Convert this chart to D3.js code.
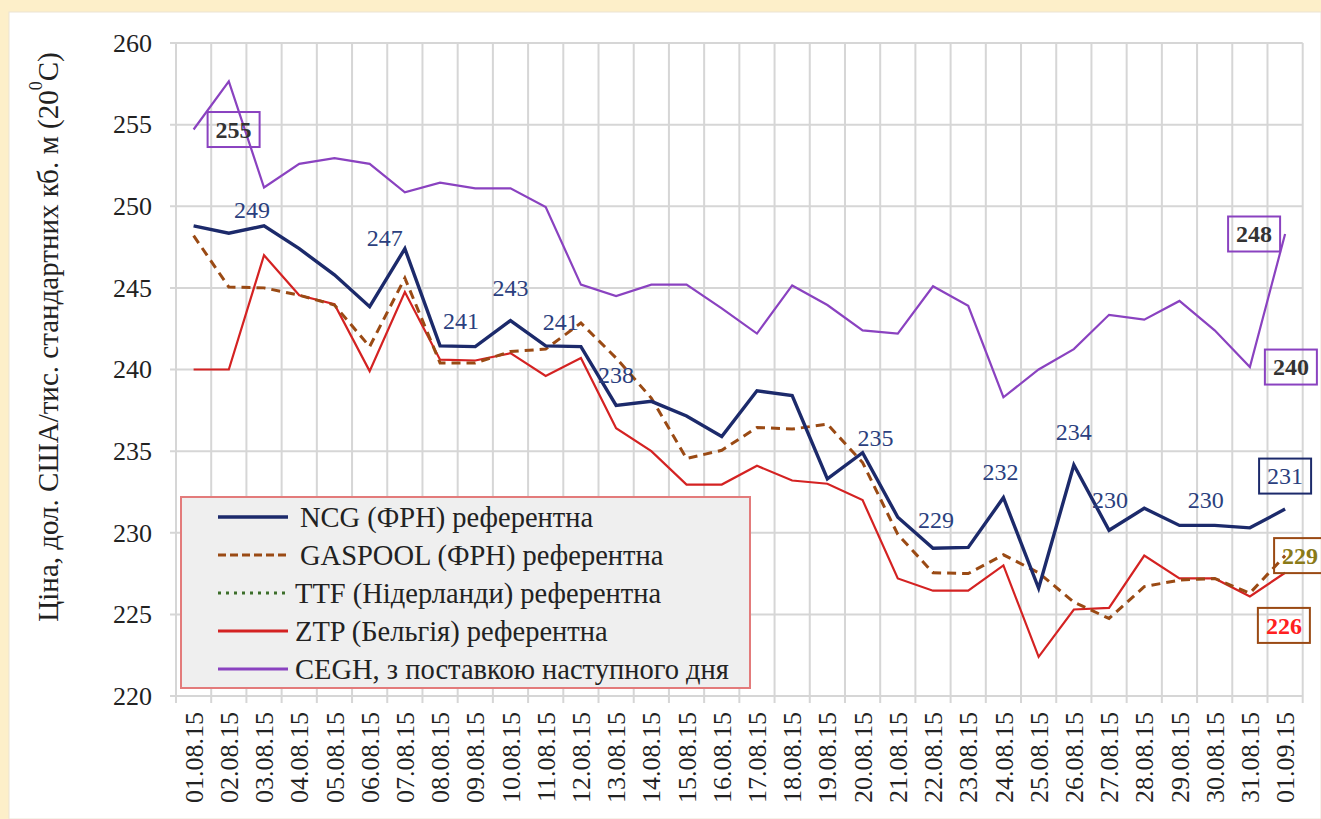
<!DOCTYPE html>
<html>
<head>
<meta charset="utf-8">
<script src="https://d3js.org/d3.v7.min.js"></script>
<style>
  body { margin: 0; background: #fdefc9; }
  #chart { position: absolute; left: 0; top: 0; }
  text { font-family: "Liberation Serif", "Times New Roman", serif; }
</style>
</head>
<body>
<div id="chart"></div>
<script>
// dates on the x axis
var dates = ["01.08.15","02.08.15","03.08.15","04.08.15","05.08.15","06.08.15","07.08.15","08.08.15",
  "09.08.15","10.08.15","11.08.15","12.08.15","13.08.15","14.08.15","15.08.15","16.08.15",
  "17.08.15","18.08.15","19.08.15","20.08.15","21.08.15","22.08.15","23.08.15","24.08.15",
  "25.08.15","26.08.15","27.08.15","28.08.15","29.08.15","30.08.15","31.08.15","01.09.15"];

// series values
var ncg = [248.8, 248.35, 248.8, 247.4, 245.8, 243.85, 247.4, 241.45, 241.4, 243.0, 241.45, 241.4,
  237.8, 238.05, 237.15, 235.9, 238.7, 238.4, 233.3, 234.9, 230.95, 229.05, 229.1, 232.15,
  226.6, 234.15, 230.15, 231.5, 230.45, 230.45, 230.3, 231.45];
var gaspool = [248.2, 245.05, 245.0, 244.55, 243.95, 241.4, 245.6, 240.4, 240.4, 241.1, 241.25, 242.85,
  240.7, 238.25, 234.55, 235.05, 236.45, 236.35, 236.65, 234.3, 229.9, 227.55, 227.5, 228.65,
  227.55, 225.75, 224.75, 226.7, 227.1, 227.2, 226.3, 228.6];
var ttf = []; // only in the legend, no points visible in the chart
var ztp = [240.0, 240.0, 247.0, 244.55, 244.0, 239.9, 244.75, 240.6, 240.55, 241.0, 239.6, 240.7,
  236.4, 235.0, 232.95, 232.95, 234.1, 233.2, 233.0, 232.0, 227.2, 226.45, 226.45, 228.0,
  222.4, 225.3, 225.4, 228.6, 227.2, 227.2, 226.1, 227.55];
var cegh = [254.7, 257.65, 251.15, 252.6, 252.95, 252.6, 250.85, 251.45, 251.1, 251.1, 249.95, 245.2,
  244.5, 245.2, 245.2, 243.75, 242.2, 245.15, 243.95, 242.4, 242.2, 245.1, 243.9, 238.3,
  240.0, 241.25, 243.35, 243.05, 244.2, 242.4, 240.15, 248.3];

var yTicks = [220, 225, 230, 235, 240, 245, 250, 255, 260];

var seriesNames = ["NCG (ФРН) референтна", "GASPOOL (ФРН) референтна", "TTF (Нідерланди) референтна",
  "ZTP (Бельгія) референтна", "CEGH, з поставкою наступного дня"];

// data labels: series, point index, offset of the label
var ncgLabels = [[2, -12, -8], [6, -20, -3], [7, 21, -17], [9, 0, -25], [10, 15, -16], [12, 0, -22],
  [19, 13, -7], [21, 3, -20], [23, -3, -18], [25, 0, -25], [26, 1, -22], [29, -9, -17]];
var boxLabels = [
  {s: "cegh", i: 0, dx: 40, dy: 0},
  {s: "cegh", i: 31, dx: -31, dy: 0},
  {s: "cegh", i: 30, dx: 41, dy: 0},
  {s: "ncg", i: 31, dx: 0, dy: -33},
  {s: "gaspool", i: 31, dx: 15, dy: 0},
  {s: "ztp", i: 30, dx: 34, dy: 29}
];

var W = 1321, H = 819;
var margin = {left: 176, top: 43};
var width = 1126.7, height = 653;

var svg = d3.select("#chart").append("svg")
  .attr("width", W).attr("height", H);

// white panel on the yellow page
svg.append("rect").attr("x", 9).attr("y", 12).attr("width", W - 9).attr("height", H - 12)
  .attr("fill", "#fff").attr("stroke", "#ece4d4").attr("stroke-width", 1);

var g = svg.append("g").attr("transform", "translate(" + margin.left + "," + margin.top + ")");

var x = d3.scaleBand().domain(dates).range([0, width]).padding(0);
var y = d3.scaleLinear().domain([220, 260]).range([height, 0]);
var cx = function(i) { return x(dates[i]) + x.bandwidth() / 2; };

// grid
g.selectAll(".hgrid").data(yTicks).enter().append("line")
  .attr("x1", -6).attr("x2", width)
  .attr("y1", function(d) { return y(d); }).attr("y2", function(d) { return y(d); })
  .attr("stroke", "#d6d6d6").attr("stroke-width", 2);
var vb = dates.map(function(d) { return x(d); }).concat([width]);
g.selectAll(".vgrid").data(vb).enter().append("line")
  .attr("x1", function(d) { return d; }).attr("x2", function(d) { return d; })
  .attr("y1", 0).attr("y2", height + 7)
  .attr("stroke", "#d6d6d6").attr("stroke-width", 2);

// axes
var yAxis = g.append("g").call(d3.axisLeft(y).tickValues(yTicks).tickSize(0).tickPadding(24));
yAxis.select(".domain").remove();
yAxis.selectAll("text").attr("font-size", "26px").attr("fill", "#222")
  .style("font-family", "'Liberation Serif', serif");

var xAxis = g.append("g").attr("transform", "translate(0," + height + ")")
  .call(d3.axisBottom(x).tickSize(0));
xAxis.select(".domain").remove();
xAxis.selectAll("text")
  .attr("font-size", "26px").attr("fill", "#222")
  .style("font-family", "'Liberation Serif', serif")
  .attr("text-anchor", "end")
  .attr("transform", "rotate(-90)")
  .attr("x", -16).attr("y", 0).attr("dy", "0.35em");

// y title
var yt = svg.append("text")
  .attr("transform", "translate(48,337) rotate(-90)")
  .attr("text-anchor", "middle").attr("font-size", "29px").attr("fill", "#222")
  .attr("dy", "0.35em");
yt.append("tspan").text("Ціна, дол. США/тис. стандартних кб. м (20");
yt.append("tspan").text("0").attr("font-size", "18px").attr("dy", "-0.9em");
yt.append("tspan").text("С)").attr("dy", "0.55em");

// lines
var line = d3.line().x(function(d, i) { return cx(i); }).y(function(d) { return y(d); });
var styles = {
  ncg: {data: ncg, color: "#1c2a6b", w: 3.4, dash: null},
  gaspool: {data: gaspool, color: "#9a4a14", w: 3, dash: "9,6"},
  ttf: {data: ttf, color: "#3c6e2a", w: 3, dash: "2,6"},
  ztp: {data: ztp, color: "#d42222", w: 2.2, dash: null},
  cegh: {data: cegh, color: "#8a42c0", w: 2.2, dash: null}
};
["cegh", "ztp", "ttf", "gaspool", "ncg"].forEach(function(k) {
  var s = styles[k];
  if (!s.data.length) return;
  g.append("path").datum(s.data).attr("d", line)
    .attr("fill", "none").attr("stroke", s.color).attr("stroke-width", s.w)
    .attr("stroke-dasharray", s.dash).attr("stroke-linejoin", "miter");
});

// legend
var lg = svg.append("g");
lg.append("rect").attr("x", 181).attr("y", 497).attr("width", 569).attr("height", 191)
  .attr("fill", "#efefef").attr("stroke", "#e37b7b").attr("stroke-width", 2);
var legKeys = ["ncg", "gaspool", "ttf", "ztp", "cegh"];
var legTextX = [300, 300, 295, 295, 295];
legKeys.forEach(function(k, i) {
  var s = styles[k];
  var yy = 517 + i * 38;
  lg.append("line").attr("x1", 218).attr("x2", 288).attr("y1", yy).attr("y2", yy)
    .attr("stroke", s.color).attr("stroke-width", k === "ncg" ? 3.5 : 3)
    .attr("stroke-dasharray", k === "gaspool" ? "8,4" : (k === "ttf" ? "3,5" : null));
  lg.append("text").attr("x", legTextX[i]).attr("y", yy).attr("dy", "0.35em")
    .attr("font-size", "28.5px").attr("fill", "#222").text(seriesNames[i]);
});

// plain NCG labels
var fmt = d3.format(".0f");
g.selectAll(".nlab").data(ncgLabels).enter().append("text")
  .attr("x", function(d) { return cx(d[0]) + d[1]; })
  .attr("y", function(d) { return y(ncg[d[0]]) + d[2]; })
  .attr("text-anchor", "middle").attr("font-size", "24px").attr("fill", "#2b3f7e")
  .text(function(d) { return fmt(ncg[d[0]]); });

// boxed labels
var boxStyle = {
  cegh: {box: "#8a42c0", txt: "#333", bold: true},
  ncg: {box: "#1c2a6b", txt: "#2b3f7e", bold: false},
  gaspool: {box: "#9a4a14", txt: "#8a7a18", bold: true},
  ztp: {box: "#9a4a14", txt: "#ff2020", bold: true}
};
boxLabels.forEach(function(b) {
  var v = styles[b.s].data[b.i];
  var px = cx(b.i) + b.dx, py = y(v) + b.dy;
  var st = boxStyle[b.s];
  g.append("rect").attr("x", px - 26).attr("y", py - 17.5).attr("width", 52).attr("height", 35)
    .attr("fill", "none").attr("stroke", st.box).attr("stroke-width", 2);
  g.append("text").attr("x", px).attr("y", py).attr("dy", "0.35em")
    .attr("text-anchor", "middle").attr("font-size", "24px")
    .attr("font-weight", st.bold ? "bold" : "normal").attr("fill", st.txt)
    .text(fmt(v));
});
</script>
</body>
</html>
